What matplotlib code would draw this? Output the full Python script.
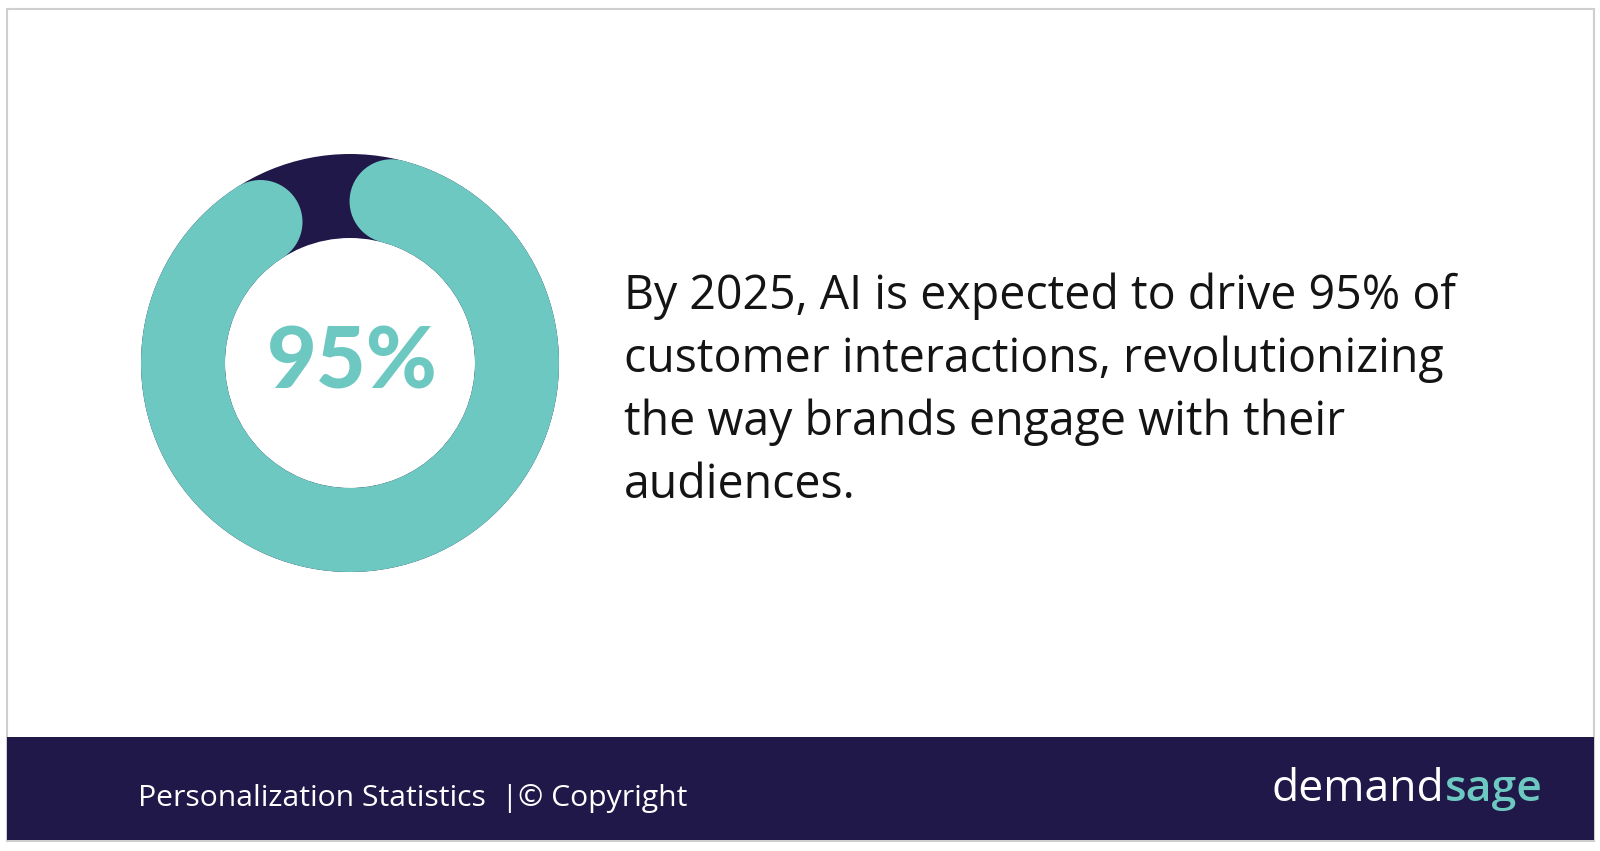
import matplotlib
matplotlib.use("Agg")
import numpy as np
import matplotlib.pyplot as plt
from matplotlib.patches import Wedge, Circle, Rectangle

# data
share_pct = 95
rest_pct = 100 - share_pct
headline = "{}%".format(share_pct)
lines = [
    "By 2025, AI is expected to drive 95% of",
    "customer interactions, revolutionizing",
    "the way brands engage with their",
    "audiences.",
]
footer_left = "Personalization Statistics  |© Copyright"
brand = ["demand", "sage"]

TEAL = "#6dc8c1"
NAVY = "#1f1848"
INK = "#141414"
BODY_FONT = "Open Sans"

W, H = 1600, 851
fig = plt.figure(figsize=(W / 100, H / 100), dpi=100)
ax = fig.add_axes([0, 0, 1, 1])
ax.set_xlim(0, W)
ax.set_ylim(H, 0)
ax.set_aspect("equal")
ax.axis("off")

# frame + footer band
ax.add_patch(Rectangle((7, 9), 1587, 832, facecolor="white", edgecolor="#cfcfcf", lw=1.5))
ax.add_patch(Rectangle((7, 737), 1587, 103, facecolor=NAVY, edgecolor="none"))

# donut
cx, cy = 350, 363
r_out, r_in = 209, 125
ring = r_out - r_in
r_mid = (r_out + r_in) / 2
ax.add_patch(Wedge((cx, cy), r_out, 0, 360, width=ring, facecolor=NAVY, edgecolor="none"))

# teal arc incl. round caps covers share_pct of the circle, gap sits just left of top
# (y axis is flipped, so angles run clockwise on screen)
cap_deg = np.degrees((ring / 2) / r_mid)
gap_deg = 360 * rest_pct / 100
start = -90 + cap_deg
end = -90 + 360 - gap_deg - cap_deg
ax.add_patch(Wedge((cx, cy), r_out, start, end, width=ring, facecolor=TEAL, edgecolor="none"))
for a in (start, end):
    t = np.radians(a)
    ax.add_patch(Circle((cx + r_mid * np.cos(t), cy + r_mid * np.sin(t)), ring / 2,
                        facecolor=TEAL, edgecolor="none"))

ax.text(cx + 2, cy + 1, headline, fontsize=62, fontweight="black", family="Lato",
        color=TEAL, ha="center", va="center")

# statement
y0, step = 309, 63
for i, s in enumerate(lines):
    ax.text(624, y0 + i * step, s, fontsize=33.5, family=BODY_FONT, color=INK,
            ha="left", va="baseline")

# footer
ax.text(138, 806, footer_left, fontsize=21.7, family=BODY_FONT, color="white",
        ha="left", va="baseline")
t1 = ax.text(1272, 801, brand[0], fontsize=32, family=BODY_FONT,
             color="white", ha="left", va="baseline")
fig.canvas.draw()
bb = t1.get_window_extent()
x2 = ax.transData.inverted().transform((bb.x1, bb.y0))[0]
ax.text(x2, 801, brand[1], fontsize=32, family=BODY_FONT, fontweight="semibold",
        color=TEAL, ha="left", va="baseline")

fig.savefig("out.png", dpi=100, facecolor="white")
